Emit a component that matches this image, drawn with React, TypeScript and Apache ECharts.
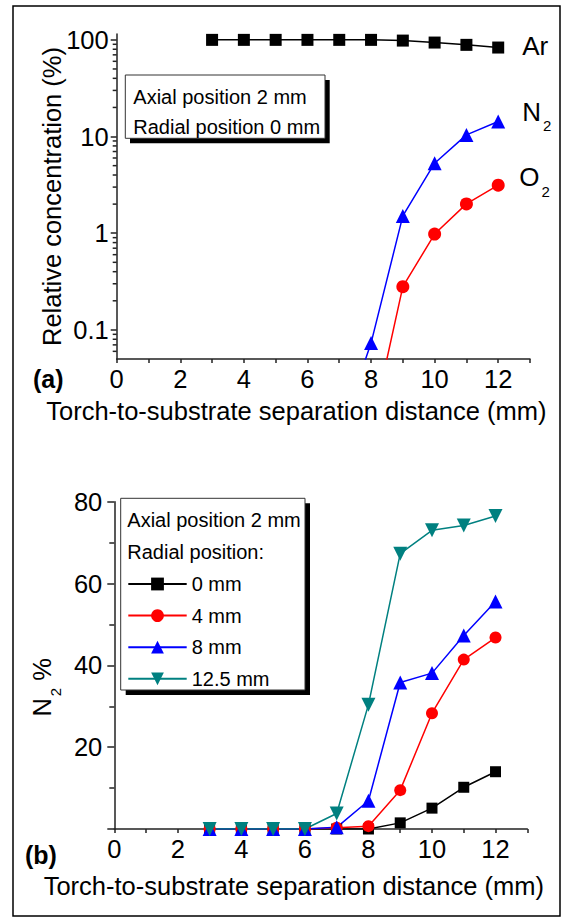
import React, { useEffect, useRef } from "react";
import * as echarts from "echarts";

// ---------- Panel (a) data ----------
const arX = [3, 4, 5, 6, 7, 8, 9, 10, 11, 12];
const arValues = [100, 100, 100, 100, 100, 100, 98.3, 93.8, 88.8, 83.3];
const n2X = [7, 8, 9, 10, 11, 12];
const n2Values = [0.008, 0.073, 1.51, 5.3, 10.4, 14.3];
const o2X = [8, 9, 10, 11, 12];
const o2Values = [0.009, 0.28, 0.98, 2.01, 3.14];
const logMinorTicks = [
  0.06, 0.07, 0.08, 0.09,
  0.2, 0.3, 0.4, 0.5, 0.6, 0.7, 0.8, 0.9,
  2, 3, 4, 5, 6, 7, 8, 9,
  20, 30, 40, 50, 60, 70, 80, 90,
];

// ---------- Panel (b) data ----------
const sepX = [3, 4, 5, 6, 7, 8, 9, 10, 11, 12];
const radial0 = [0, 0, 0, 0, 0, 0, 1.5, 5.1, 10.2, 14.0];
const radial4 = [0, 0, 0, 0, 0.3, 0.7, 9.5, 28.3, 41.4, 46.8];
const radial8 = [0, 0, 0, 0, 0.4, 6.9, 35.8, 38.1, 47.3, 55.6];
const radial125 = [0, 0, 0, 0, 3.8, 30.4, 67.3, 73.0, 74.2, 76.5];
const radialNames = ["0 mm", "4 mm", "8 mm", "12.5 mm"];

const xTitle = "Torch-to-substrate separation distance (mm)";
const FONT = "Liberation Sans, Arial, sans-serif";
const AXIS_COLOR = "#222";
const AX_FS = 25.5;

const zip = (xs: number[], ys: number[]) => xs.map((x, i) => [x, ys[i]]);

export default function App() {
  const ref = useRef<HTMLDivElement>(null);

  useEffect(() => {
    if (!ref.current) return;
    const chart = echarts.init(ref.current, null, { renderer: "svg" });

    const axisLine = { show: true, onZero: false, lineStyle: { color: AXIS_COLOR, width: 1.5 } };
    const xAxisBase = (gridIndex: number, nameGap: number) => ({
      type: "value",
      gridIndex,
      min: 0,
      max: 13,
      interval: 1,
      axisLine,
      axisTick: { show: true, length: 4, lineStyle: { color: AXIS_COLOR, width: 1.5 } },
      axisLabel: {
        fontSize: AX_FS,
        color: "#000",
        margin: 7,
        fontFamily: FONT,
        formatter: (v: number) => (v % 2 === 0 ? String(v) : ""),
      },
      splitLine: { show: false },
      name: xTitle,
      nameLocation: "middle",
      nameGap,
      nameTextStyle: { fontSize: AX_FS, color: "#000", fontFamily: FONT, padding: [0, 54, 0, 0] },
    });

    const subRich = (fs: number) => ({
      m: { fontSize: fs, color: "#000", fontFamily: FONT },
      s: { fontSize: 15, color: "#000", fontFamily: FONT, padding: [28, 0, 0, 2] },
    });

    const lineSeries = (
      name: string,
      xs: number[],
      ys: number[],
      color: string,
      symbol: string,
      axisIdx: number,
      extra: any = {}
    ) => ({
      type: "line",
      name,
      xAxisIndex: axisIdx,
      yAxisIndex: axisIdx,
      data: zip(xs, ys),
      symbol,
      symbolSize: 13,
      showAllSymbol: true,
      itemStyle: { color },
      lineStyle: { color, width: 1.5 },
      ...extra,
    });

    const option: any = {
      animation: false,
      backgroundColor: "#fff",
      textStyle: { fontFamily: FONT },
      grid: [
        { left: 116.7, top: 34, width: 413.3, height: 325 },
        { left: 114.3, top: 501.7, width: 413, height: 327.3 },
      ],
      xAxis: [xAxisBase(0, 39), xAxisBase(1, 44)],
      yAxis: [
        {
          type: "log",
          logBase: 10,
          gridIndex: 0,
          min: 0.05,
          max: 115,
          axisLine,
          axisTick: { show: true, length: 6, lineStyle: { color: AXIS_COLOR, width: 1.5 } },
          axisLabel: {
            fontSize: AX_FS,
            color: "#000",
            margin: 8,
            fontFamily: FONT,
            showMinLabel: false,
            showMaxLabel: false,
            formatter: (v: number) => String(Number(v.toPrecision(6))),
          },
          splitLine: { show: false },
          name: "Relative concentration (%)",
          nameLocation: "middle",
          nameGap: 52,
          nameMoveOverlap: false,
          nameTextStyle: { fontSize: AX_FS, color: "#000", fontFamily: FONT },
        },
        {
          type: "value",
          gridIndex: 1,
          min: 0,
          max: 80,
          interval: 20,
          axisLine,
          axisTick: { show: true, length: 7, lineStyle: { color: AXIS_COLOR, width: 1.5 } },
          minorTick: { show: true, splitNumber: 2, length: 5, lineStyle: { color: AXIS_COLOR, width: 1.5 } },
          axisLabel: {
            fontSize: AX_FS,
            color: "#000",
            margin: 12,
            fontFamily: FONT,
            showMinLabel: false,
          },
          splitLine: { show: false },
          minorSplitLine: { show: false },
          name: "{m|N}{s|2}{m| %}",
          nameLocation: "middle",
          nameGap: 51,
          nameMoveOverlap: false,
          nameTextStyle: {
            fontSize: AX_FS,
            color: "#000",
            fontFamily: FONT,
            rich: subRich(AX_FS),
            padding: [0, 44, 0, 0],
          },
        },
      ],
      legend: {
        data: radialNames,
        orient: "vertical",
        left: 127.3,
        top: 574,
        itemWidth: 58.4,
        itemHeight: 16,
        itemGap: 11.6,
        padding: 0,
        textStyle: { fontSize: 20, color: "#000", fontFamily: FONT, lineHeight: 20 },
        selectedMode: false,
      },
      series: [
        // panel (a)
        lineSeries("Ar", arX, arValues, "#000000", "rect", 0, {
          symbolSize: 12,
          endLabel: {
            show: true,
            formatter: "Ar",
            fontSize: 26,
            color: "#000",
            fontFamily: FONT,
            distance: 24,
            offset: [0, -2],
          },
        }),
        lineSeries("N2", n2X, n2Values, "#0000ff", "triangle", 0, {
          symbolSize: 14,
          endLabel: {
            show: true,
            formatter: "{m|N}{s|2}",
            rich: subRich(26),
            distance: 24,
            offset: [0, -10],
          },
        }),
        lineSeries("O2", o2X, o2Values, "#ff0000", "circle", 0, {
          endLabel: {
            show: true,
            formatter: "{m|O}{s|2}",
            rich: subRich(26),
            distance: 21,
            offset: [0, -8],
          },
        }),
        {
          type: "custom",
          name: "logMinor",
          xAxisIndex: 0,
          yAxisIndex: 0,
          silent: true,
          clip: false,
          data: logMinorTicks.map((v) => [0, v]),
          renderItem: (_p: any, api: any) => {
            const pt = api.coord([api.value(0), api.value(1)]);
            return {
              type: "line",
              shape: { x1: pt[0] - 4, y1: pt[1], x2: pt[0], y2: pt[1] },
              style: { stroke: AXIS_COLOR, lineWidth: 1.5 },
            };
          },
        },
        // panel (b)
        lineSeries(radialNames[0], sepX, radial0, "#000000", "rect", 1, { symbolSize: 11 }),
        lineSeries(radialNames[1], sepX, radial4, "#ff0000", "circle", 1, { symbolSize: 12 }),
        lineSeries(radialNames[2], sepX, radial8, "#0000ff", "triangle", 1, { symbolSize: 14 }),
        lineSeries(radialNames[3], sepX, radial125, "#008080", "triangle", 1, {
          symbolSize: 14,
          symbolRotate: 180,
        }),
      ],
      graphic: [
        // outer frame
        {
          type: "rect",
          shape: { x: 13, y: 6, width: 547, height: 910 },
          style: { fill: "none", stroke: "#000", lineWidth: 1.5 },
          z: 0,
        },
        // panel (a) info box
        {
          type: "rect",
          shape: { x: 130, y: 80, width: 199.7, height: 63.3 },
          style: { fill: "#000" },
          z: 10,
        },
        {
          type: "rect",
          shape: { x: 125.3, y: 75, width: 199.7, height: 63.3 },
          style: { fill: "#fff", stroke: "#333", lineWidth: 1 },
          z: 11,
        },
        {
          type: "text",
          x: 133.3,
          y: 97.3,
          style: { text: "Axial position 2 mm", fontSize: 20, fill: "#000", fontFamily: FONT, verticalAlign: "middle" },
          z: 12,
        },
        {
          type: "text",
          x: 133.3,
          y: 126.7,
          style: { text: "Radial position 0 mm", fontSize: 20, fill: "#000", fontFamily: FONT, verticalAlign: "middle" },
          z: 12,
        },
        {
          type: "text",
          x: 33,
          y: 379.3,
          style: { text: "(a)", fontSize: 25, fontWeight: "bold", fill: "#000", fontFamily: FONT, verticalAlign: "middle" },
        },
        // panel (b) legend box
        {
          type: "rect",
          shape: { x: 125.7, y: 503.3, width: 184.3, height: 191.7 },
          style: { fill: "#000" },
          z: 0,
        },
        {
          type: "rect",
          shape: { x: 120.7, y: 498.3, width: 184.3, height: 191.7 },
          style: { fill: "#fff", stroke: "#333", lineWidth: 1 },
          z: 1,
        },
        {
          type: "text",
          x: 127.3,
          y: 520,
          style: { text: "Axial position 2 mm", fontSize: 20, fill: "#000", fontFamily: FONT, verticalAlign: "middle" },
          z: 12,
        },
        {
          type: "text",
          x: 127.3,
          y: 551.7,
          style: { text: "Radial position:", fontSize: 20, fill: "#000", fontFamily: FONT, verticalAlign: "middle" },
          z: 12,
        },
        {
          type: "text",
          x: 25,
          y: 855,
          style: { text: "(b)", fontSize: 25, fontWeight: "bold", fill: "#000", fontFamily: FONT, verticalAlign: "middle" },
        },
      ],
    };

    chart.setOption(option);
    return () => chart.dispose();
  }, []);

  return (
    <div
      ref={ref}
      style={{ position: "absolute", left: 0, top: 0, width: 563, height: 918, background: "#fff" }}
    />
  );
}
